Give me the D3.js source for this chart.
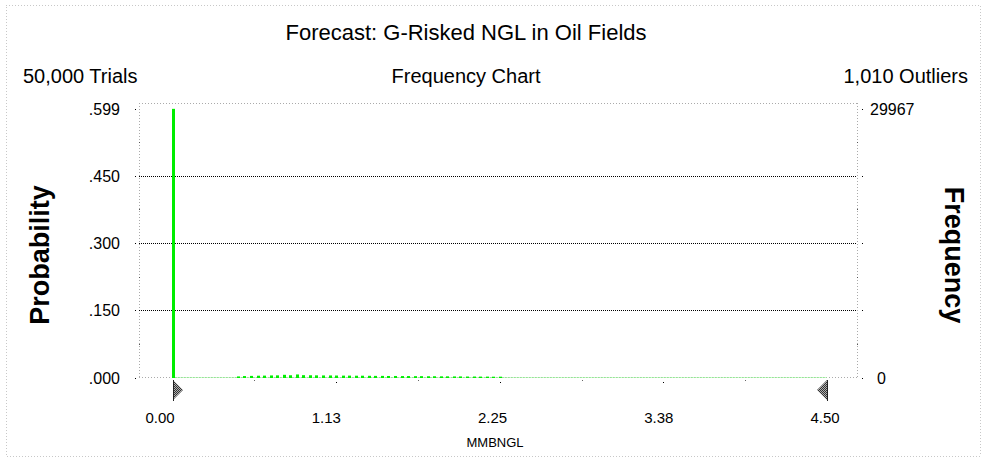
<!DOCTYPE html>
<html><head><meta charset="utf-8">
<script src="https://cdn.jsdelivr.net/npm/d3@7/dist/d3.min.js"></script>
<style>
html,body{margin:0;padding:0;background:#fff;}
svg{display:block;}
text{font-family:"Liberation Sans",Arial,sans-serif;fill:#000;}
</style></head>
<body>
<svg id="chart" width="984" height="461"></svg>
<script>
// ---- data ----
const title = "Forecast: G-Risked NGL in Oil Fields";
const trialsLabel = "50,000 Trials";
const chartLabel = "Frequency Chart";
const outliersLabel = "1,010 Outliers";
const totalTrials = 50000;
const binWidth = 0.045;
// counts per bin (100 bins from 0 to 4.5)
const binCounts = [
  29967, 0, 0, 0, 0, 0, 0, 0, 0, 0,
  120, 160, 180, 200, 210, 230, 240, 300, 250, 340,
  260, 250, 240, 230, 230, 220, 210, 210, 200, 200,
  190, 180, 180, 170, 170, 160, 160, 150, 150, 140,
  140, 130, 130, 120, 120, 110, 110, 100, 100, 90,
  90, 0, 0, 0, 0, 0, 0, 0, 0, 0,
  0, 0, 0, 0, 0, 0, 0, 0, 0, 0,
  0, 0, 0, 0, 0, 0, 0, 0, 0, 0,
  0, 0, 0, 0, 0, 0, 0, 0, 0, 0,
  0, 0, 0, 0, 0, 0, 0, 0, 0, 0
];
const xTickValues = [0, 1.125, 2.25, 3.375, 4.5];
const xTickLabels = ["0.00", "1.13", "2.25", "3.38", "4.50"];
const yTickValues = [0, 0.15, 0.30, 0.45, 0.599];
const yTickLabels = [".000", ".150", ".300", ".450", ".599"];
const freqTickLabels = ["0", "29967"];
const certaintyRange = [0, 4.5];
const xTitle = "MMBNGL";
const yTitleLeft = "Probability";
const yTitleRight = "Frequency";

// ---- layout ----
const svg = d3.select("#chart");
const frame = {left: 139, right: 857, top: 103, bottom: 377};
const x = d3.scaleLinear().domain([0, 4.5]).range([172.5, 827]);
const xLab = d3.scaleLinear().domain([0, 4.5]).range([160, 825]);
const y = d3.scaleLinear().domain([0, 0.599]).range([377.5, 109]);

// outer dotted border
svg.append("rect").attr("x", 6).attr("y", 5).attr("width", 974).attr("height", 451)
  .attr("fill", "none").attr("stroke", "#c8c8c8").attr("stroke-dasharray", "1,2")
  .attr("shape-rendering", "crispEdges");

// defs: checker pattern
const defs = svg.append("defs");
const pat = defs.append("pattern").attr("id", "chk").attr("width", 2).attr("height", 2)
  .attr("patternUnits", "userSpaceOnUse");
pat.append("rect").attr("width", 2).attr("height", 2).attr("fill", "#b0b0b0");
pat.append("rect").attr("width", 1).attr("height", 1).attr("fill", "#333");
pat.append("rect").attr("x", 1).attr("y", 1).attr("width", 1).attr("height", 1).attr("fill", "#333");

// titles
svg.append("text").attr("x", 466).attr("y", 40).attr("text-anchor", "middle")
  .attr("font-size", 22).text(title);
svg.append("text").attr("x", 23).attr("y", 83).attr("font-size", 20).text(trialsLabel);
svg.append("text").attr("x", 466).attr("y", 83).attr("text-anchor", "middle").attr("font-size", 20).text(chartLabel);
svg.append("text").attr("x", 968).attr("y", 83).attr("text-anchor", "end").attr("font-size", 20).text(outliersLabel);

// frame (light gray dotted)
const g = svg.append("g").attr("shape-rendering", "crispEdges");
const frameLine = (x1, y1, x2, y2) => g.append("line")
  .attr("x1", x1).attr("y1", y1).attr("x2", x2).attr("y2", y2)
  .attr("stroke", "#aaa").attr("stroke-dasharray", "1,2");
frameLine(frame.left, frame.top, frame.right, frame.top);
frameLine(frame.left, frame.top, frame.left, frame.bottom);
frameLine(frame.right, frame.top, frame.right, frame.bottom);
frameLine(frame.left, frame.bottom, frame.right, frame.bottom);

// gridlines (black dotted)
g.selectAll(".grid").data(yTickValues.filter(v => v > 0 && v < 0.5)).enter().append("line")
  .attr("x1", frame.left).attr("x2", frame.right)
  .attr("y1", d => Math.round(y(d))).attr("y2", d => Math.round(y(d)))
  .attr("stroke", "#000").attr("stroke-dasharray", "1,1");

// y axis tick dots (major and minor)
const minorY = [0.075, 0.225, 0.375, 0.525];
g.selectAll(".ymaj").data(yTickValues).enter().append("rect")
  .attr("x", 135).attr("y", d => Math.round(y(d))).attr("width", 1).attr("height", 1).attr("fill", "#000");
g.selectAll(".ymin").data(minorY).enter().append("rect")
  .attr("x", 139).attr("y", d => Math.round(y(d))).attr("width", 1).attr("height", 1).attr("fill", "#555");
g.selectAll(".rmaj").data(yTickValues).enter().append("rect")
  .attr("x", 862).attr("y", d => Math.round(y(d))).attr("width", 1).attr("height", 1).attr("fill", "#000");
g.selectAll(".rmin").data(minorY).enter().append("rect")
  .attr("x", 857).attr("y", d => Math.round(y(d))).attr("width", 1).attr("height", 1).attr("fill", "#555");

// x tick dots
const minorX = [0.5625, 1.6875, 2.8125, 3.9375];
g.selectAll(".xmaj").data(xTickValues).enter().append("rect")
  .attr("x", d => Math.round(x(d))).attr("y", 382).attr("width", 1).attr("height", 1).attr("fill", "#000");
g.selectAll(".xmin").data(minorX).enter().append("rect")
  .attr("x", d => Math.round(x(d))).attr("y", 380).attr("width", 1).attr("height", 1).attr("fill", "#666");

// y tick labels
svg.selectAll(".ylab").data(yTickValues).enter().append("text")
  .attr("x", 120).attr("y", d => y(d) + 6).attr("text-anchor", "end").attr("font-size", 16)
  .text((d, i) => yTickLabels[i]);
// right labels
svg.append("text").attr("x", 870).attr("y", y(0.599) + 6).attr("font-size", 16).text(freqTickLabels[1]);
svg.append("text").attr("x", 877).attr("y", y(0) + 6).attr("font-size", 16).text(freqTickLabels[0]);

// x tick labels
svg.selectAll(".xlab").data(xTickValues).enter().append("text")
  .attr("x", d => xLab(d)).attr("y", 423).attr("text-anchor", "middle").attr("font-size", 15)
  .text((d, i) => xTickLabels[i]);
svg.append("text").attr("x", 495).attr("y", 447).attr("text-anchor", "middle").attr("font-size", 13).text(xTitle);

// axis titles
svg.append("text").attr("transform", "translate(49,255) rotate(-90)").attr("text-anchor", "middle")
  .attr("font-family", "DejaVu Sans Condensed").attr("font-weight", "bold").attr("font-size", 27)
  .text(yTitleLeft);
svg.append("text").attr("transform", "translate(945,255) rotate(90)").attr("text-anchor", "middle")
  .attr("font-family", "DejaVu Sans Condensed").attr("font-weight", "bold").attr("font-size", 27)
  .text(yTitleRight);

// pale baseline across certainty range
svg.append("line").attr("x1", x(certaintyRange[0])).attr("x2", x(certaintyRange[1]))
  .attr("y1", 377.5).attr("y2", 377.5).attr("stroke", "#9cf59c").attr("stroke-dasharray", "2,1");

// bars
const bins = binCounts.map((c, i) => ({lo: i * binWidth, p: c / totalTrials}));
svg.selectAll(".bar").data(bins.filter(b => b.p > 0)).enter().append("rect")
  .attr("x", d => Math.round(x(d.lo)) - 1).attr("width", 3)
  .attr("y", d => y(d.p)).attr("height", d => 378 - y(d.p))
  .attr("fill", "#00ee00");

// certainty grabbers
const xl = Math.round(x(certaintyRange[0]));
const arrowL = d3.path();
arrowL.moveTo(xl, 380); arrowL.lineTo(xl + 10, 390); arrowL.lineTo(xl, 400); arrowL.closePath();
svg.append("path").attr("d", arrowL.toString()).attr("fill", "url(#chk)");
svg.append("line").attr("x1", xl + 0.5).attr("x2", xl + 0.5).attr("y1", 380).attr("y2", 401).attr("stroke", "#222");
const xr = Math.round(x(certaintyRange[1]));
const arrowR = d3.path();
arrowR.moveTo(xr, 380); arrowR.lineTo(xr - 10, 390); arrowR.lineTo(xr, 400); arrowR.closePath();
svg.append("path").attr("d", arrowR.toString()).attr("fill", "url(#chk)");
svg.append("line").attr("x1", xr + 0.5).attr("x2", xr + 0.5).attr("y1", 380).attr("y2", 401).attr("stroke", "#222");
</script>
</body></html>
